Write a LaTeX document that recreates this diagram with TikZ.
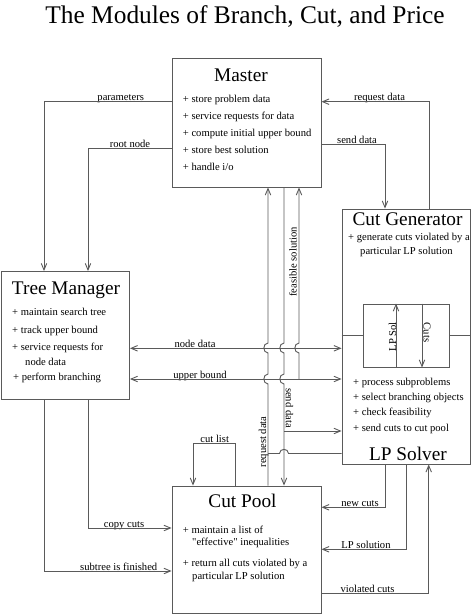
\documentclass[tikz,border=0pt]{standalone}
\usepackage{fontspec}
\setmainfont{Liberation Serif}[Ligatures=TeXOff]
\usetikzlibrary{arrows.meta}
\definecolor{linegray}{RGB}{90,90,90}
\tikzset{
  box/.style={draw=linegray,line width=0.9pt,inner sep=0pt},
  head/.style={font=\fontsize{19.3}{22}\selectfont,anchor=base,inner sep=0pt},
  item/.style={font=\fontsize{10.6}{12}\selectfont,anchor=base west,inner sep=0pt},
  lbl/.style={font=\fontsize{10.6}{12}\selectfont,anchor=base,inner sep=0pt},
  vlbl/.style={font=\fontsize{10.6}{12}\selectfont,inner sep=0pt},
  link/.style={draw=linegray,line width=0.9pt},
}
\begin{document}
\begin{tikzpicture}[x=1pt,y=-1pt,>={Straight Barb[length=6.5pt,width=5.5pt]}]
\useasboundingbox (0,0) rectangle (474,615);
\node[font=\fontsize{25.4}{30}\selectfont,anchor=base,inner sep=0pt] (title) at (245,23.5) {The Modules of Branch, Cut, and Price};

\node[box,minimum width=149pt,minimum height=129pt] (master) at (246.5,122.5) {};
\node[box,minimum width=128pt,minimum height=128pt] (tm) at (65.5,335.5) {};
\node[box,minimum width=128pt,minimum height=255pt] (solver) at (406,336.5) {};
\node[box,minimum width=86pt,minimum height=63pt] (lpcut) at (406,335.5) {};
\node[box,minimum width=149pt,minimum height=127pt] (cp) at (246.5,549.5) {};

\node[head] (masterhd) at (241,81.7) {Master};
\node[item] (m1) at (182.7,102.3) {+ store problem data};
\node[item] (m2) at (182.7,119.3) {+ service requests for data};
\node[item] (m3) at (182.7,136.3) {+ compute initial upper bound};
\node[item] (m4) at (182.7,153.3) {+ store best solution};
\node[item] (m5) at (182.7,170.3) {+ handle i/o};

\node[head] (tmhd) at (66,294.5) {Tree Manager};
\node[item] (t1) at (12,315) {+ maintain search tree};
\node[item] (t2) at (12,333.3) {+ track upper bound};
\node[item] (t3) at (12,350.7) {+ service requests for};
\node[item] (t4) at (25,365.7) {node data};
\node[item] (t5) at (13,380) {+ perform branching};

\node[head] (cghd) at (407.5,225) {Cut Generator};
\node[item] (g1) at (348,240) {+ generate cuts violated by a};
\node[item] (g2) at (360,254) {particular LP solution};
\node[vlbl,rotate=90] (lpsol) at (392.5,336.7) {LP Sol};
\node[vlbl,rotate=-90] (cuts) at (427,332.5) {Cuts};
\node[item] (s1) at (353,385) {+ process subproblems};
\node[item] (s2) at (353,400) {+ select branching objects};
\node[item] (s3) at (353,415.7) {+ check feasibility};
\node[item] (s4) at (353,431.7) {+ send cuts to cut pool};
\node[head] (lphd) at (408,460) {LP Solver};

\node[head] (cphd) at (242.5,507) {Cut Pool};
\node[item] (c1) at (182.7,533.3) {+ maintain a list of};
\node[item] (c2) at (192,545.7) {"effective" inequalities};
\node[item] (c3) at (182.7,566.7) {+ return all cuts violated by a};
\node[item] (c4) at (192,579) {particular LP solution};

\node[lbl] (lparam) at (120.7,101) {parameters};
\node[lbl] (lroot) at (130,147.5) {root node};
\node[lbl] (lreq) at (379.5,101) {request data};
\node[lbl] (lsend) at (357,143.5) {send data};
\node[lbl] (lnode) at (195,347) {node data};
\node[lbl] (lub) at (200,378) {upper bound};
\node[lbl] (lcut) at (214.7,442.5) {cut list};
\node[lbl] (lcopy) at (124,527.5) {copy cuts};
\node[lbl] (lsub) at (118.7,570.5) {subtree is finished};
\node[lbl] (lnew) at (360,506.5) {new cuts};
\node[lbl] (llps) at (366,548.5) {LP solution};
\node[lbl] (lviol) at (367.5,592.5) {violated cuts};
\node[vlbl,rotate=90] (lfeas) at (293,262) {feasible solution};
\node[vlbl,rotate=-90] (lsend2) at (289.5,408) {send data};
\node[vlbl,rotate=90] (lreq2) at (263.5,442) {request data};

\coordinate (rqjoin) at (268,453.5);
\coordinate (sdjoin) at (284,431);
\coordinate (fsjoin) at (299,379);

\draw[link,->] (master.west |- 0,101.7) -| (tm.north -| 44,0);
\draw[link,->] (master.west |- 0,148.3) -| (tm.north -| 88,0);
\draw[link,->] (solver.north -| 429,0) |- (master.east |- 0,101.7);
\draw[link,->] (master.east |- 0,144.3) -| (solver.north -| 385,0);

\draw[link,->] (cp.north -| rqjoin) -- (268,384) .. controls (262.5,384) and (262.5,374) .. (268,374) -- (268,353) .. controls (262.5,353) and (262.5,343) .. (268,343) -- (master.south -| rqjoin);
\draw[link,->] (master.south -| sdjoin) -- (284,343) .. controls (278.5,343) and (278.5,353) .. (284,353) -- (284,374) .. controls (278.5,374) and (278.5,384) .. (284,384) -- (cp.north -| sdjoin);
\draw[link,->] (fsjoin) -- (299,353) .. controls (293.5,353) and (293.5,343) .. (299,343) -- (master.south -| fsjoin);
\draw[link] (solver.west |- rqjoin) -- (288.5,453.5) .. controls (288.5,448) and (279.5,448) .. (279.5,453.5) -- (rqjoin);
\draw[link,->] (sdjoin) -- (solver.west |- sdjoin);

\draw[link,<->] (tm.east |- 0,348.3) -- (solver.west |- 0,348.3);
\draw[link,<->] (tm.east |- fsjoin) -- (solver.west |- fsjoin);

\draw[link] (solver.west |- lpcut.west) -- (lpcut.west);
\draw[link] (lpcut.east) -- (solver.east |- lpcut.east);
\draw[link,->] (lpcut.south -| 396,0) -- (lpcut.north -| 396,0);
\draw[link,->] (lpcut.north -| 422,0) -- (lpcut.south -| 422,0);

\draw[link,->] (tm.south -| 88,0) |- (cp.west |- 0,528);
\draw[link,->] (tm.south -| 44,0) |- (cp.west |- 0,571);
\draw[link,->] (cp.north -| 235.7,0) |- (214,443.3) -| (cp.north -| 193,0);

\draw[link,->] (solver.south -| 385,0) |- (cp.east |- 0,507.3);
\draw[link,->] (solver.south -| 406.3,0) |- (cp.east |- 0,549.3);
\draw[link,->] (cp.east |- 0,593) -| (solver.south -| 428.7,0);
\end{tikzpicture}
\end{document}
